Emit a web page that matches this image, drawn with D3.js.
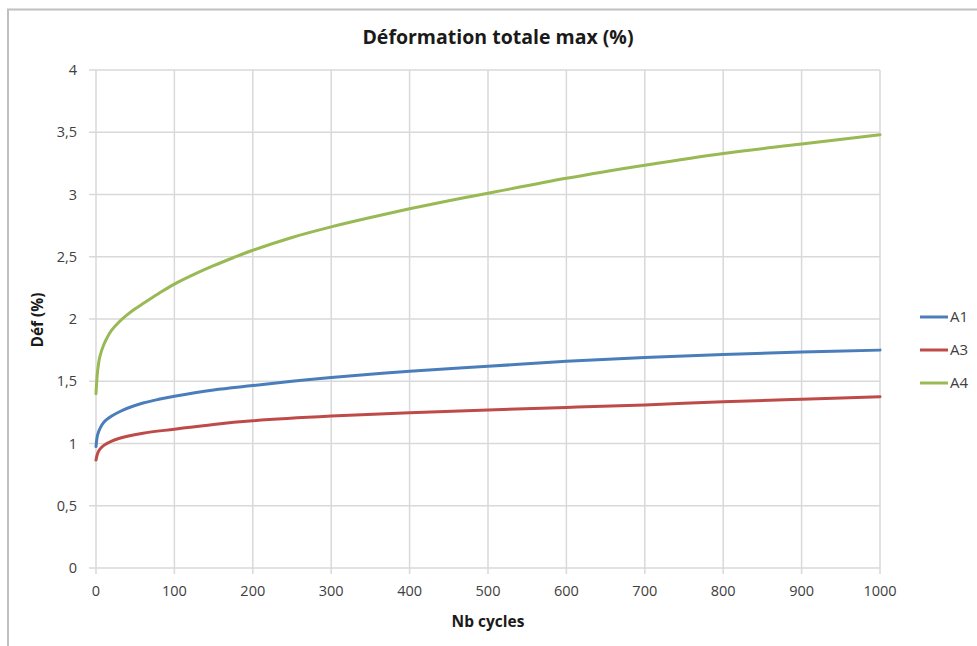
<!DOCTYPE html>
<html><head><meta charset="utf-8">
<script src="https://cdn.jsdelivr.net/npm/d3@7/dist/d3.min.js"></script>
<style>body{margin:0;background:#fff;} svg{display:block;}</style>
</head><body>
<script>
const seriesNames = ["A1", "A3", "A4"];
const seriesColors = ["#4a7ebb", "#be4b48", "#98b954"];
const cyclesA1 = [0, 2, 5, 10, 20, 30, 40, 60, 80, 100, 150, 200, 250, 300, 400, 500, 600, 700, 800, 900, 1000];
const a1Values = [0.975, 1.07, 1.12, 1.17, 1.22, 1.255, 1.283, 1.325, 1.355, 1.38, 1.43, 1.465, 1.50, 1.53, 1.58, 1.62, 1.66, 1.69, 1.715, 1.735, 1.75];
const cyclesA3 = [0, 2, 5, 10, 20, 40, 60, 100, 150, 200, 300, 400, 500, 600, 700, 800, 900, 1000];
const a3Values = [0.867, 0.92, 0.955, 0.985, 1.02, 1.058, 1.083, 1.115, 1.153, 1.182, 1.22, 1.247, 1.27, 1.29, 1.31, 1.335, 1.355, 1.375];
const cyclesA4 = [0, 2, 5, 10, 15, 20, 30, 40, 50, 60, 80, 100, 125, 150, 175, 200, 250, 300, 350, 400, 450, 500, 600, 700, 800, 900, 1000];
const a4Values = [1.40, 1.58, 1.70, 1.795, 1.86, 1.91, 1.98, 2.035, 2.082, 2.124, 2.205, 2.28, 2.358, 2.428, 2.492, 2.552, 2.655, 2.74, 2.815, 2.885, 2.95, 3.01, 3.13, 3.235, 3.33, 3.405, 3.48];
const xTicks = [0,100,200,300,400,500,600,700,800,900,1000];
const yTicks = [0,0.5,1,1.5,2,2.5,3,3.5,4];
const titleText = "Déformation totale max (%)";
const xTitle = "Nb cycles";
const yTitle = "Déf (%)";

const W = 977, H = 646;
const svg = d3.select("body").append("svg").attr("width", W).attr("height", H);
const font = "'Open Sans', sans-serif";

// outer border
svg.append("path").attr("d", `M8,${H} L8,9.5 L${W},9.5`).attr("fill","none").attr("stroke","#c0c0c0").attr("stroke-width",2);

const x = d3.scaleLinear().domain([0,1000]).range([96,880]);
const y = d3.scaleLinear().domain([0,4]).range([568,70]);

// gridlines
const g = svg.append("g");
g.selectAll(".hg").data(yTicks).join("line")
  .attr("x1", 89).attr("x2", x(1000)).attr("y1", d=>y(d)).attr("y2", d=>y(d))
  .attr("stroke","#d9d9d9").attr("stroke-width",1.5);
g.selectAll(".vg").data(xTicks).join("line")
  .attr("x1", d=>x(d)).attr("x2", d=>x(d)).attr("y1", y(4)).attr("y2", 574)
  .attr("stroke","#d9d9d9").attr("stroke-width",1.5);

// tick labels
svg.append("g").selectAll("text").data(yTicks).join("text")
  .attr("x", 77).attr("y", d=>y(d)).attr("dy","0.35em").attr("text-anchor","end")
  .attr("font-family", font).attr("font-size", 14.5).attr("fill","#404040")
  .text(d=>String(d).replace(".", ","));
svg.append("g").selectAll("text").data(xTicks).join("text")
  .attr("x", d=>x(d)).attr("y", 596).attr("text-anchor","middle")
  .attr("font-family", font).attr("font-size", 14.5).attr("fill","#404040")
  .text(d=>d);

// titles
svg.append("text").attr("x", 498).attr("y", 44).attr("text-anchor","middle")
  .attr("font-family", font).attr("font-weight","bold").attr("font-size", 19.5).attr("fill","#1a1a1a").text(titleText);
svg.append("text").attr("x", 488).attr("y", 627).attr("text-anchor","middle")
  .attr("font-family", font).attr("font-weight","bold").attr("font-size", 15.5).attr("fill","#1a1a1a").text(xTitle);
svg.append("text").attr("transform","translate(43,320) rotate(-90)").attr("text-anchor","middle")
  .attr("font-family", font).attr("font-weight","bold").attr("font-size", 15.5).attr("fill","#1a1a1a").text(yTitle);

// series
const series = [
  {name: seriesNames[0], xs: cyclesA1, ys: a1Values, color: seriesColors[0]},
  {name: seriesNames[1], xs: cyclesA3, ys: a3Values, color: seriesColors[1]},
  {name: seriesNames[2], xs: cyclesA4, ys: a4Values, color: seriesColors[2]}
];
const line = d3.line().x(d=>x(d[0])).y(d=>y(d[1])).curve(d3.curveCatmullRom.alpha(0.5));
svg.append("g").selectAll("path").data(series).join("path")
  .attr("d", s => line(s.xs.map((c,i)=>[c, s.ys[i]])))
  .attr("fill","none").attr("stroke", s=>s.color).attr("stroke-width",3).attr("stroke-linecap","round");

// legend
const lg = svg.append("g").selectAll("g").data(series).join("g")
  .attr("transform", (d,i)=>`translate(920,${317 + i*33})`);
lg.append("line").attr("x1",0).attr("x2",28).attr("stroke", d=>d.color).attr("stroke-width",3);
lg.append("text").attr("x",30).attr("dy","0.35em").attr("font-family", font).attr("font-size",15).attr("fill","#404040").text(d=>d.name);
</script>
</body></html>
